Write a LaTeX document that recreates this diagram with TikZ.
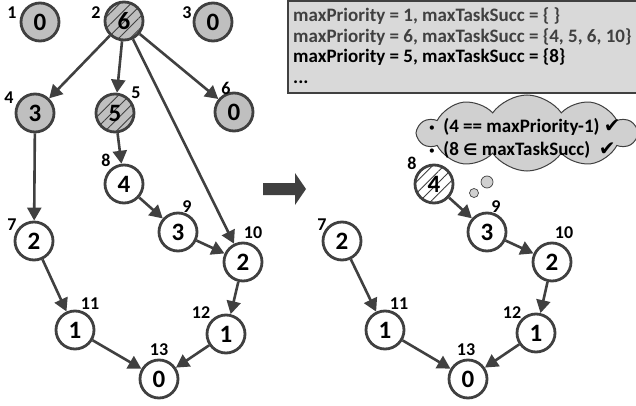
\documentclass[tikz,border=0pt]{standalone}
\usepackage{fontspec}
\setmainfont{Carlito}
\newfontfamily\symfont{DejaVu Sans}
\usetikzlibrary{arrows.meta,patterns.meta,shapes.symbols}
\definecolor{dk}{HTML}{404040}
\definecolor{nodegray}{HTML}{BFBFBF}
\definecolor{boxgray}{HTML}{D9D9D9}
\definecolor{cloudgray}{HTML}{D0D0D0}
\definecolor{txtgray}{HTML}{404040}
\tikzset{
  task/.style={circle, draw=dk, line width=2.8pt, minimum size=38pt, inner sep=0pt, fill=white,
    font=\fontsize{25}{25}\selectfont\bfseries},
  topnode/.style={task, fill=nodegray},
  hatchgray/.style={task, fill=none, preaction={fill=nodegray},
    preaction={pattern={Lines[angle=45,distance=8pt,line width=0.9pt]}, pattern color=dk}},
  hatchwhite/.style={task, fill=none, preaction={fill=white},
    preaction={pattern={Lines[angle=45,distance=8pt,line width=0.9pt]}, pattern color=dk}},
  num/.style={font=\fontsize{18}{18}\selectfont\bfseries, inner sep=0pt},
  edge/.style={draw=dk, line width=2.6pt, -{Triangle[length=13pt,width=14pt]}},
  boxtext/.style={anchor=base west, inner sep=0pt, font=\fontsize{19}{19}\selectfont\bfseries},
  bubble/.style={circle, draw=dk, line width=0.7pt, fill=cloudgray, inner sep=0pt},
}
\begin{document}
\begin{tikzpicture}[x=1pt,y=-1pt]
\useasboundingbox (0,0) rectangle (636,406);

% info box
\draw[draw=dk, line width=2pt, fill=boxgray] (288,1) rectangle (640,93);
\node[boxtext, text=txtgray] (l1) at (293,22) {maxPriority = 1, maxTaskSucc = \{ \}};
\node[boxtext, text=txtgray] (l2) at (293,42.5) {maxPriority = 6, maxTaskSucc = \{4, 5, 6, 10\}};
\node[boxtext] (l3) at (293,63) {maxPriority = 5, maxTaskSucc = \{8\}};
\node[boxtext] (l4) at (293,84) {...};

% thought cloud
\node[cloud, cloud puffs=10, cloud puff arc=110, cloud ignores aspect, draw=dk, line width=1pt,
      fill=cloudgray, minimum width=218pt, minimum height=76pt, inner sep=0pt] (cl) at (527,133) {};
\node[boxtext] (c1) at (428,133) {{\symfont\fontsize{12}{12}\selectfont •}\, (4 == maxPriority-1) {\symfont\fontsize{20}{20}\selectfont ✔}};
\node[boxtext] (c2) at (428,155) {{\symfont\fontsize{12}{12}\selectfont •}\, (8 {\symfont\fontsize{16}{16}\selectfont ∈} maxTaskSucc)\ \ {\symfont\fontsize{20}{20}\selectfont ✔}};
\node[bubble, minimum size=12pt] (b1) at (487,182) {};
\node[bubble, minimum size=9pt] (b2) at (474,193) {};

% big arrow
\fill[dk] (263,183) -- (295,183) -- (295,173) -- (306,189) -- (295,205) -- (295,195) -- (263,195) -- cycle;

% left graph
\node[topnode] (a1) at (40,22) {0};
\node[hatchgray] (a2) at (124,21) {6};
\node[topnode] (a3) at (213,22) {0};
\node[topnode] (a4) at (35,113) {3};
\node[hatchgray] (a5) at (115,113) {5};
\node[topnode] (a6) at (234,112) {0};
\node[task] (a7) at (34,241) {2};
\node[task] (a8) at (124,184) {4};
\node[task] (a9) at (178,232) {3};
\node[task] (a10) at (243,262) {2};
\node[task] (a11) at (75,330) {1};
\node[task] (a12) at (226,334) {1};
\node[task] (a13) at (159,379) {0};

\node[num] (la1) at (12,13) {1};
\node[num] (la2) at (96,13) {2};
\node[num] (la3) at (187,13) {3};
\node[num] (la4) at (9,98) {4};
\node[num] (la5) at (136,93) {5};
\node[num] (la6) at (226,88) {6};
\node[num] (la7) at (12,225) {7};
\node[num] (la8) at (106,160) {8};
\node[num] (la9) at (187,207) {9};
\node[num] (la10) at (253,233) {10};
\node[num] (la11) at (90,304) {11};
\node[num] (la12) at (201,313) {12};
\node[num] (la13) at (159,350) {13};

\draw[edge] (a2) -- (a4);
\draw[edge] (a2) -- (a5);
\draw[edge] (a2) -- (a6);
\draw[edge] (a2) -- (a10);
\draw[edge] (a4) -- (a7);
\draw[edge] (a5) -- (a8);
\draw[edge] (a8) -- (a9);
\draw[edge] (a9) -- (a10);
\draw[edge] (a7) -- (a11);
\draw[edge] (a10) -- (a12);
\draw[edge] (a11) -- (a13);
\draw[edge] (a12) -- (a13);

% right graph
\node[task] (b7) at (342,241) {2};
\node[hatchwhite] (b8) at (434,184) {4};
\node[task] (b9) at (487,232) {3};
\node[task] (b10) at (552,262) {2};
\node[task] (b11) at (385,330) {1};
\node[task] (b12) at (536,333) {1};
\node[task] (b13) at (468,379) {0};

\node[num] (lb7) at (322,225) {7};
\node[num] (lb8) at (412,163) {8};
\node[num] (lb9) at (496,207) {9};
\node[num] (lb10) at (564,233) {10};
\node[num] (lb11) at (399,304) {11};
\node[num] (lb12) at (512,313) {12};
\node[num] (lb13) at (466,350) {13};

\draw[edge] (b7) -- (b11);
\draw[edge] (b8) -- (b9);
\draw[edge] (b9) -- (b10);
\draw[edge] (b10) -- (b12);
\draw[edge] (b11) -- (b13);
\draw[edge] (b12) -- (b13);
\end{tikzpicture}
\end{document}
